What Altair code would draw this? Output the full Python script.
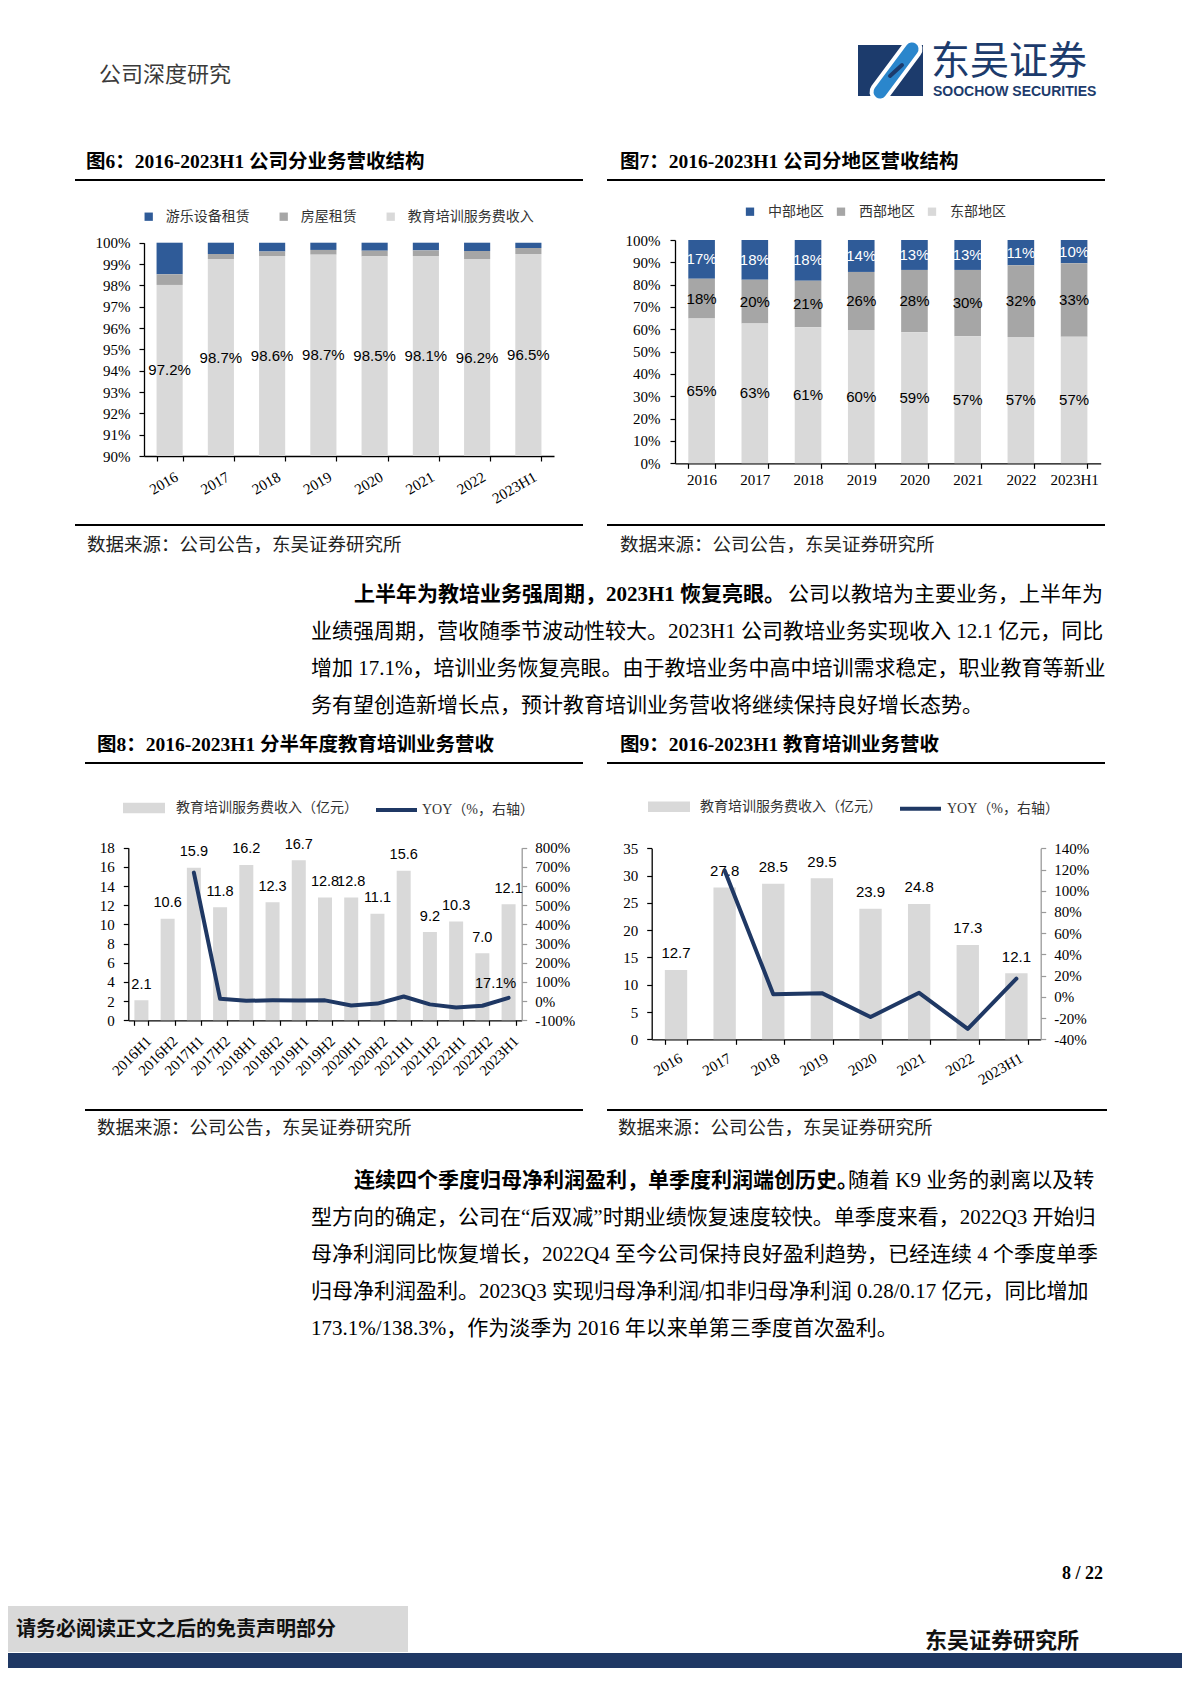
import altair as alt
import pandas as pd

# ---------------- chart values ----------------
years = ['2016', '2017', '2018', '2019', '2020', '2021', '2022', '2023H1']

biz_names = ['游乐设备租赁', '房屋租赁', '教育培训服务费收入']
biz_leisure = [1.48, 0.53, 0.41, 0.34, 0.375, 0.36, 0.39, 0.25]
biz_house = [0.50, 0.24, 0.215, 0.22, 0.265, 0.265, 0.38, 0.28]
biz_edu = [98.02, 99.23, 99.375, 99.44, 99.36, 99.375, 99.23, 99.47]
biz_edu_label = [97.2, 98.7, 98.6, 98.7, 98.5, 98.1, 96.2, 96.5]

region_names = ['中部地区', '西部地区', '东部地区']
reg_central = [17.3, 17.8, 18.2, 14.3, 13.4, 13.4, 11.3, 10.4]
reg_west = [17.9, 19.6, 20.9, 26.0, 27.9, 29.7, 32.1, 32.9]
reg_east = [64.8, 62.6, 60.9, 59.7, 58.7, 56.9, 56.6, 56.7]

half_periods = ['2016H1', '2016H2', '2017H1', '2017H2', '2018H1', '2018H2', '2019H1',
                '2019H2', '2020H1', '2020H2', '2021H1', '2021H2', '2022H1', '2022H2', '2023H1']
half_rev = [2.1, 10.6, 15.9, 11.8, 16.2, 12.3, 16.7, 12.8, 12.8, 11.1, 15.6, 9.2, 10.3, 7.0, 12.1]
half_yoy = [None, None, 670, 12, 2, 4, 3, 4, -23, -13, 24, -17, -33, -24, 17.1]

year_rev = [12.7, 27.8, 28.5, 29.5, 23.9, 24.8, 17.3, 12.1]
year_yoy = [None, 119, 2.5, 3.5, -19, 3.8, -30.2, 17.1]

series_bar = '教育培训服务费收入（亿元）'
series_line = 'YOY（%，右轴）'

# ---------------- page texts ----------------
header_text = '公司深度研究'
logo_cn = '东吴证券'
logo_en = 'SOOCHOW SECURITIES'
title6 = '图6：2016-2023H1 公司分业务营收结构'
title7 = '图7：2016-2023H1 公司分地区营收结构'
title8 = '图8：2016-2023H1 分半年度教育培训业务营收'
title9 = '图9：2016-2023H1 教育培训业务营收'
source_text = '数据来源：公司公告，东吴证券研究所'
p1_bold = '上半年为教培业务强周期，2023H1 恢复亮眼。'
p1_lines = ['公司以教培为主要业务，上半年为',
            '业绩强周期，营收随季节波动性较大。2023H1 公司教培业务实现收入 12.1 亿元，同比',
            '增加 17.1%，培训业务恢复亮眼。由于教培业务中高中培训需求稳定，职业教育等新业',
            '务有望创造新增长点，预计教育培训业务营收将继续保持良好增长态势。']
p2_bold = '连续四个季度归母净利润盈利，单季度利润端创历史。'
p2_lines = ['随着 K9 业务的剥离以及转',
            '型方向的确定，公司在“后双减”时期业绩恢复速度较快。单季度来看，2022Q3 开始归',
            '母净利润同比恢复增长，2022Q4 至今公司保持良好盈利趋势，已经连续 4 个季度单季',
            '归母净利润盈利。2023Q3 实现归母净利润/扣非归母净利润 0.28/0.17 亿元，同比增加',
            '173.1%/138.3%，作为淡季为 2016 年以来单第三季度首次盈利。']
page_no = '8 / 22'
disclaimer = '请务必阅读正文之后的免责声明部分'
footer_org = '东吴证券研究所'

# ---------------- styles ----------------
W = 1174
H = 1660
SERIF = 'Liberation Serif, Noto Sans CJK SC'
CJK = 'Noto Sans CJK SC'
SANS = 'Liberation Sans'
BLUE = '#2f5b98'
GREY = '#a6a6a6'
LIGHT = '#d9d9d9'
NAVY = '#1f3864'
LOGO_NAVY = '#1c3b6c'
LOGO_BLUE = '#2a86cc'
PFS = 21


def tx(rows, **kw):
    df = pd.DataFrame(rows, columns=['x', 'y', 't'])
    style = dict(align='left', baseline='middle', color='#000')
    style.update(kw)
    return alt.Chart(df).mark_text(**style).encode(
        x=alt.X('x:Q', scale=None, axis=None),
        y=alt.Y('y:Q', scale=None, axis=None),
        text='t:N')


def rl(rows, **kw):
    df = pd.DataFrame(rows, columns=['x', 'x2', 'y', 'y2'])
    return alt.Chart(df).mark_rule(**kw).encode(
        x=alt.X('x:Q', scale=None, axis=None), x2='x2:Q',
        y=alt.Y('y:Q', scale=None, axis=None), y2='y2:Q')


def rc(rows, **kw):
    df = pd.DataFrame(rows, columns=['x', 'x2', 'y', 'y2'])
    return alt.Chart(df).mark_rect(**kw).encode(
        x=alt.X('x:Q', scale=None, axis=None), x2='x2:Q',
        y=alt.Y('y:Q', scale=None, axis=None), y2='y2:Q')


def leg_common(**kw):
    d = dict(title=None, orient='none', direction='horizontal', padding=0,
             labelFont=SERIF, labelFontSize=14, labelColor='#333', labelLimit=400)
    d.update(kw)
    return alt.Legend(**d)


def xaxis(angle, pad, loff, bottom):
    return alt.Axis(orient='bottom', offset=bottom - H, labelAngle=angle, tickBand='extent',
                    labelPadding=pad, labelOffset=loff, tickSize=5)


# ---------------- chart 6 (plot box: x 136-546, y 234.7-448) ----------------
df6 = pd.DataFrame({
    'year': years * 3,
    'biz': [biz_names[0]] * 8 + [biz_names[1]] * 8 + [biz_names[2]] * 8,
    'share': biz_leisure + biz_house + biz_edu,
    'order': [2] * 8 + [1] * 8 + [0] * 8,
})
lab6 = pd.DataFrame({'year': years, 'edu': biz_edu, 'label': biz_edu_label})

x6 = alt.X('year:N', sort=years, title=None,
           scale=alt.Scale(range=[136, 546], paddingInner=0.49, paddingOuter=0.245),
           axis=xaxis(-30, 8, 3, 448))
y6s = alt.Scale(domain=[90, 100], range=[448, 234.7], nice=False, zero=False, clamp=True)
bars6 = alt.Chart(df6).transform_stack(
    stack='share', groupby=['year'], sort=[alt.SortField('order', 'ascending')], as_=['y0', 'y1']
).mark_bar().encode(
    x=x6,
    y=alt.Y('y0:Q', title=None, scale=y6s,
            axis=alt.Axis(orient='left', offset=-136, values=list(range(90, 101)),
                          labelExpr="datum.value + '%'", labelPadding=9)),
    y2='y1:Q',
    color=alt.Color('biz:N', scale=alt.Scale(domain=biz_names, range=[BLUE, GREY, LIGHT]),
                    legend=leg_common(legendX=133.7, legendY=201.7, symbolType='square', symbolSize=69,
                                      symbolStrokeWidth=0, labelOffset=10, columnPadding=27)),
)
text6 = alt.Chart(lab6).transform_calculate(
    ypos='(90 + datum.edu) / 2', txt="format(datum.label, '.1f') + '%'"
).mark_text(font=SANS, fontSize=15, color='#000', baseline='middle').encode(
    x=x6, y=alt.Y('ypos:Q', title=None), text='txt:N')
chart6 = alt.layer(bars6, text6)

# ---------------- chart 7 (plot box: x 667-1092.7, y 232-455.3) ----------------
df7 = pd.DataFrame({
    'year': years * 3,
    'region': [region_names[0]] * 8 + [region_names[1]] * 8 + [region_names[2]] * 8,
    'share': reg_central + reg_west + reg_east,
    'order': [2] * 8 + [1] * 8 + [0] * 8,
})
x7 = alt.X('year:N', sort=years, title=None,
           scale=alt.Scale(range=[667, 1092.7], paddingInner=0.5, paddingOuter=0.25),
           axis=xaxis(0, 4, 0, 455.3))
base7 = alt.Chart(df7).transform_stack(
    stack='share', groupby=['year'], sort=[alt.SortField('order', 'ascending')], as_=['y0', 'y1']
).transform_calculate(mid='(datum.y0 + datum.y1) / 2', txt="format(datum.share, '.0f') + '%'")
bars7 = base7.mark_bar().encode(
    x=x7,
    y=alt.Y('y0:Q', title=None, scale=alt.Scale(domain=[0, 100], range=[455.3, 232], nice=False),
            axis=alt.Axis(orient='left', offset=-667, values=list(range(0, 101, 10)),
                          labelExpr="datum.value + '%'", labelPadding=10)),
    y2='y1:Q',
    color=alt.Color('region:N', scale=alt.Scale(domain=region_names, range=[BLUE, GREY, LIGHT]),
                    legend=leg_common(legendX=735, legendY=196.7, symbolType='square', symbolSize=69,
                                      symbolStrokeWidth=0, labelOffset=11, columnPadding=10)),
)
text7 = base7.mark_text(font=SANS, fontSize=15, baseline='middle').encode(
    x=x7, y=alt.Y('mid:Q', title=None), text='txt:N',
    color=alt.condition("datum.region == '中部地区'", alt.value('white'), alt.value('black')))
chart7 = alt.layer(bars7, text7)


# ---------------- chart 8 / 9 (bar + line, dual axis) ----------------
def combo(periods, rev, yoy, ymax, ystep, rmin, rmax, rstep, pin, angle, lpad, loff,
          x0, x1, ytop, ybot, legx_bar, legx_line, legc, lab_bar, lab_line, show_last_label, fs):
    df = pd.DataFrame({'period': periods, 'rev': rev, 'yoy': yoy,
                       's1': [series_bar] * len(periods), 's2': [series_line] * len(periods)})
    x = alt.X('period:N', sort=periods, title=None,
              scale=alt.Scale(range=[x0, x1], paddingInner=pin, paddingOuter=pin / 2),
              axis=xaxis(angle, lpad, loff, ybot))
    bar = alt.Chart(df).mark_bar().encode(
        x=x,
        y=alt.Y('rev:Q', title=None, scale=alt.Scale(domain=[0, ymax], range=[ybot, ytop], nice=False),
                axis=alt.Axis(orient='left', offset=-x0, values=list(range(0, ymax + 1, ystep)),
                              format='d', labelPadding=9)),
        color=alt.Color('s1:N', scale=alt.Scale(range=[LIGHT]),
                        legend=leg_common(legendX=legx_bar, legendY=legc - 21,
                                          symbolType='M-1,-0.25H1V0.25H-1Z', symbolSize=1764,
                                          symbolStrokeWidth=0, labelOffset=lab_bar)),
    )
    bartext = alt.Chart(df).mark_text(font=SANS, fontSize=fs, color='#000', baseline='alphabetic', dy=-11.5).encode(
        x=x, y=alt.Y('rev:Q', title=None), text=alt.Text('rev:Q', format='.1f'))
    line = alt.Chart(df).transform_filter('isValid(datum.yoy)').mark_line(
        strokeWidth=4, strokeJoin='round', strokeCap='round').encode(
        x=x,
        y=alt.Y('yoy:Q', title=None, scale=alt.Scale(domain=[rmin, rmax], range=[ybot, ytop], nice=False),
                axis=alt.Axis(orient='right', offset=x1 - W, values=list(range(rmin, rmax + 1, rstep)),
                              labelExpr="datum.value + '%'", labelPadding=8,
                              domainColor='#9a9a9a', tickColor='#9a9a9a')),
        stroke=alt.Stroke('s2:N', scale=alt.Scale(range=[NAVY]),
                          legend=leg_common(legendX=legx_line, legendY=legc - 20.5,
                                            symbolType='stroke', symbolSize=1681,
                                            symbolStrokeWidth=4, labelOffset=lab_line)),
    )
    line_layers = [line]
    if show_last_label:
        lt = alt.Chart(df).transform_filter(
            "datum.period == '%s'" % periods[-1]
        ).transform_calculate(txt="format(datum.yoy, '.1f') + '%'").mark_text(
            font=SANS, fontSize=fs, color='#000', baseline='middle', dx=-13, dy=-14
        ).encode(x=x, y=alt.Y('yoy:Q', title=None), text='txt:N')
        line_layers.append(lt)
    return alt.layer(alt.layer(bar, bartext), alt.layer(*line_layers)).resolve_scale(y='independent')


chart8 = combo(half_periods, half_rev, half_yoy, 18, 2, -100, 800, 100, 0.466, -45, 8, 2,
               120.3, 513.7, 839.7, 1012.3, 115, 366, 800, 11, 3, True, 14.5)
chart9 = combo(years, year_rev, year_yoy, 35, 5, -40, 140, 20, 0.54, -30, 6, 1,
               643.7, 1032.7, 840.3, 1031.3, 640, 890, 798.7, 10, 4, False, 15)

# ---------------- page decorations (pixel positions) ----------------
deco = [
    tx([[91, 67, header_text]], font=CJK, fontSize=22, color='#3a3a3a'),
    rc([[850, 915, 37, 88]], color=LOGO_NAVY),
    rl([[872, 904, 84, 41]], color='white', strokeWidth=21, strokeCap='round'),
    rl([[872, 904, 84, 41]], color=LOGO_BLUE, strokeWidth=13, strokeCap='round'),
    rl([[882, 894, 68, 57]], color=LOGO_NAVY, strokeWidth=4, strokeCap='round'),
    tx([[923, 54, logo_cn]], font=CJK, fontSize=39, color=LOGO_NAVY),
    tx([[925, 84, logo_en]], font=SANS, fontSize=14, fontWeight='bold', color=LOGO_NAVY),
    tx([[78, 154, title6], [612, 154, title7], [89, 737, title8], [612, 737, title9]],
       font=SERIF, fontSize=19.5, fontWeight='bold'),
    rl([[67, 575, 172, 172], [599, 1097, 172, 172],
        [67, 575, 517, 517], [599, 1097, 517, 517],
        [77, 575, 755, 755], [599, 1097, 755, 755],
        [77, 575, 1102, 1102], [599, 1099, 1102, 1102]], color='#000', strokeWidth=2),
    tx([[79, 537, source_text], [612, 537, source_text],
        [89, 1120, source_text], [610, 1120, source_text]], font=CJK, fontSize=18.5, color='#222'),
    tx([[346, 587, p1_bold], [346, 1173, p2_bold]], font=SERIF, fontSize=PFS, fontWeight='bold'),
    tx([[780, 587, p1_lines[0]], [303, 624, p1_lines[1]], [303, 661, p1_lines[2]], [303, 698, p1_lines[3]],
        [840, 1173, p2_lines[0]], [303, 1210, p2_lines[1]], [303, 1247, p2_lines[2]],
        [303, 1284, p2_lines[3]], [303, 1321, p2_lines[4]]], font=SERIF, fontSize=PFS),
    tx([[1095, 1566, page_no]], font='Liberation Serif', fontSize=18, fontWeight='bold', align='right'),
    rc([[0, 400, 1598, 1644]], color='#d9d9d9'),
    tx([[8, 1622, disclaimer]], font=CJK, fontSize=20, fontWeight='bold', color='#111'),
    tx([[917, 1633, footer_org]], font=CJK, fontSize=22, fontWeight='bold', color='#111'),
    rc([[0, W, 1645, H]], color=NAVY),
]

page = alt.layer(*deco, chart6, chart7, chart8, chart9).resolve_scale(
    x='independent', y='independent', color='independent', stroke='independent'
).properties(
    width=W, height=H, padding=0, autosize=alt.AutoSizeParams(type='none')
).configure_view(strokeWidth=0).configure_axis(
    domainColor='#000', domainWidth=1.3, tickColor='#000', tickWidth=1.2,
    labelColor='#000', labelFont='Liberation Serif', labelFontSize=15,
    grid=False, labelOverlap=False
)

chart = page
chart.save('out.html', embed_options={'renderer': 'svg', 'actions': False})
